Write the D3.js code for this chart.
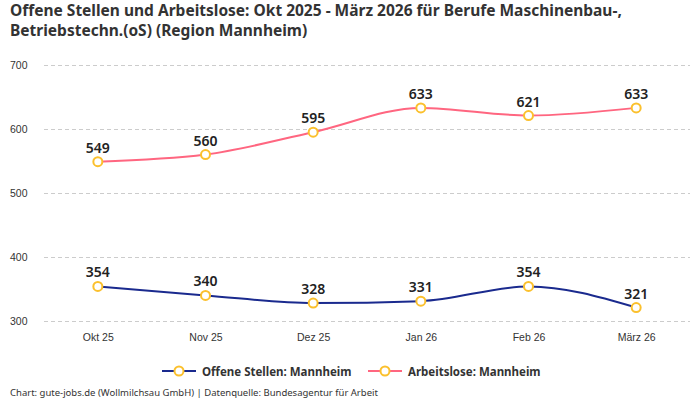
<!DOCTYPE html>
<html>
<head>
<meta charset="utf-8">
<script src="https://cdn.jsdelivr.net/npm/d3@7"></script>
<style>
  body { margin: 0; background: #fff; }
  svg { font-family: "Noto Sans", sans-serif; }
</style>
</head>
<body>
<div id="chart"></div>
<script>
// data
const months = ["Okt 25", "Nov 25", "Dez 25", "Jan 26", "Feb 26", "März 26"];
const offeneStellen = [354, 340, 328, 331, 354, 321];
const arbeitslose = [549, 560, 595, 633, 621, 633];
const yTicks = [300, 400, 500, 600, 700];

const width = 700, height = 400;
const margin = {top: 65, right: 10, bottom: 79, left: 44};

const svg = d3.select("#chart")
  .append("svg")
  .attr("width", width)
  .attr("height", height);

// title
const title = svg.append("text")
  .attr("x", 10)
  .attr("y", 16)
  .attr("font-size", "15.5px")
  .attr("font-weight", "bold")
  .attr("fill", "#333");
title.append("tspan").attr("x", 10).text("Offene Stellen und Arbeitslose: Okt 2025 - März 2026 für Berufe Maschinenbau-,");
title.append("tspan").attr("x", 10).attr("dy", 20).text("Betriebstechn.(oS) (Region Mannheim)");

let xScale = d3.scalePoint()
  .domain(months)
  .range([margin.left, width - margin.right])
  .padding(0.5);

let yScale = d3.scaleLinear()
  .domain([300, 700])
  .range([height - margin.bottom, margin.top]);

// grid + y labels
const yAxis = svg.append("g")
  .attr("transform", `translate(${margin.left}, 0)`)
  .call(d3.axisLeft(yScale).tickValues(yTicks).tickSize(-(width - margin.left - margin.right)).tickPadding(14));
yAxis.select(".domain").remove();
yAxis.selectAll(".tick line")
  .attr("stroke", "#ccc")
  .attr("stroke-dasharray", "4,3");
yAxis.selectAll(".tick text")
  .attr("font-size", "10.5px")
  .attr("fill", "#333")
  .attr("text-anchor", "start")
  .attr("x", -34);

// x labels
const xAxis = svg.append("g")
  .attr("transform", `translate(0, ${height - margin.bottom})`)
  .call(d3.axisBottom(xScale).tickSize(0).tickPadding(13));
xAxis.select(".domain").remove();
xAxis.selectAll(".tick text")
  .attr("font-size", "10.5px")
  .attr("fill", "#333");

const series = [
  {name: "Offene Stellen: Mannheim", values: offeneStellen, color: "#1a2a8e"},
  {name: "Arbeitslose: Mannheim", values: arbeitslose, color: "#ff6680"}
];

const line = d3.line()
  .x((d, i) => xScale(months[i]))
  .y(d => yScale(d))
  .curve(d3.curveMonotoneX);

series.forEach(s => {
  svg.append("path")
    .datum(s.values)
    .attr("d", line)
    .attr("fill", "none")
    .attr("stroke", s.color)
    .attr("stroke-width", 2);

  svg.selectAll(null)
    .data(s.values)
    .enter()
    .append("circle")
    .attr("cx", (d, i) => xScale(months[i]))
    .attr("cy", d => yScale(d))
    .attr("r", 4.5)
    .attr("fill", "#fff")
    .attr("stroke", "#fbc02d")
    .attr("stroke-width", 2);

  svg.selectAll(null)
    .data(s.values)
    .enter()
    .append("text")
    .attr("x", (d, i) => xScale(months[i]))
    .attr("y", d => yScale(d) - 9)
    .attr("text-anchor", "middle")
    .attr("font-size", "14px")
    .attr("font-weight", "600")
    .attr("fill", "#222")
    .text(d => d);
});

// legend
const legendX = [162, 368];
series.forEach((s, i) => {
  const g = svg.append("g").attr("transform", `translate(${legendX[i]}, 371)`);
  g.append("line").attr("x1", 0).attr("x2", 34).attr("y1", 0).attr("y2", 0)
    .attr("stroke", s.color).attr("stroke-width", 2);
  g.append("circle").attr("cx", 17).attr("cy", 0).attr("r", 4.5)
    .attr("fill", "#fff").attr("stroke", "#fbc02d").attr("stroke-width", 2);
  g.append("text").attr("x", 40).attr("y", 4.5)
    .attr("font-size", "11.5px").attr("font-weight", "bold").attr("fill", "#333")
    .text(s.name);
});

// footer
svg.append("text")
  .attr("x", 10)
  .attr("y", 396)
  .attr("font-size", "9.5px")
  .attr("fill", "#333")
  .text("Chart: gute-jobs.de (Wollmilchsau GmbH) | Datenquelle: Bundesagentur für Arbeit");
</script>
</body>
</html>
